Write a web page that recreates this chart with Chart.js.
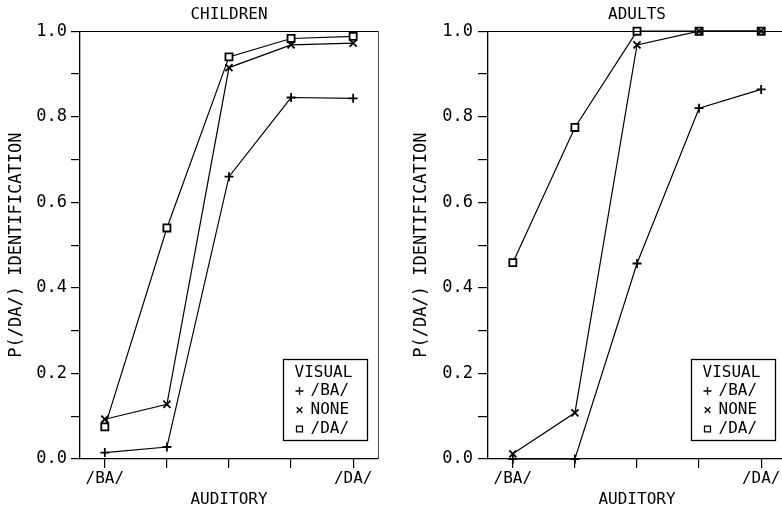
<!DOCTYPE html>
<html>
<head>
<meta charset="utf-8">
<script src="https://cdn.jsdelivr.net/npm/chart.js@4/dist/chart.umd.min.js"></script>
<style>
  html, body { margin: 0; padding: 0; background: #fff; width: 782px; height: 512px; overflow: hidden; }
  #wrapL { position: absolute; left: 0; top: 0; width: 391px; height: 512px; }
  #wrapR { position: absolute; left: 391px; top: 0; width: 408px; height: 512px; }
</style>
</head>
<body>
<div id="wrapL"><canvas id="chartL" width="391" height="512"></canvas></div>
<div id="wrapR"><canvas id="chartR" width="408" height="512"></canvas></div>
<script>
// ---- data ----
const auditoryLevels = [0, 1, 2, 3, 4];
const xTickLabels = ['/BA/', '', '', '', '/DA/'];
const yTickValues = [0, 0.1, 0.2, 0.3, 0.4, 0.5, 0.6, 0.7, 0.8, 0.9, 1.0];
const yTickLabels = ['0.0', '', '0.2', '', '0.4', '', '0.6', '', '0.8', '', '1.0'];
const seriesNames = ['/BA/', 'NONE', '/DA/'];

const childrenBA   = [0.015, 0.028, 0.66, 0.845, 0.843];
const childrenNone = [0.093, 0.128, 0.915, 0.968, 0.972];
const childrenDA   = [0.075, 0.54, 0.94, 0.983, 0.988];

const adultsBA   = [0.0, 0.0, 0.457, 0.82, 0.864];
const adultsNone = [0.012, 0.108, 0.968, 1.0, 1.0];
const adultsDA   = [0.459, 0.775, 1.0, 1.0, 1.0];

// ---- styling ----
const FONT = "'DejaVu Sans Mono', 'Liberation Mono', monospace";
Chart.defaults.font.family = FONT;
Chart.defaults.color = '#000';

const pointStyles = ['cross', 'crossRot', 'rect'];
const pointRadii = [4.5, 5, 5];

function toPoints(vals) {
  return auditoryLevels.map((x, i) => ({ x: x, y: vals[i] }));
}

function makeDatasets(ba, none, da) {
  return [ba, none, da].map((vals, i) => ({
    label: seriesNames[i],
    data: toPoints(vals),
    borderColor: '#000',
    borderWidth: 1.2,
    backgroundColor: '#fff',
    pointStyle: pointStyles[i],
    pointRadius: pointRadii[i],
    pointBorderWidth: 1.8,
    pointBorderColor: '#000',
    pointBackgroundColor: '#fff',
    tension: 0,
    clip: 12
  }));
}

const frameAndLegend = {
  id: 'frameAndLegend',
  afterDatasetsDraw(chart, args, opts) {
    const ctx = chart.ctx;
    const a = chart.chartArea;
    ctx.save();
    // top and right frame lines
    ctx.strokeStyle = '#000';
    ctx.lineWidth = 1.2;
    ctx.beginPath();
    ctx.moveTo(a.left, Math.round(a.top) + 0.5);
    ctx.lineTo(a.right, Math.round(a.top) + 0.5);
    ctx.stroke();
    ctx.strokeStyle = '#444';
    ctx.lineWidth = 1;
    ctx.beginPath();
    ctx.moveTo(Math.round(a.right) + 0.5, a.top);
    ctx.lineTo(Math.round(a.right) + 0.5, a.bottom);
    ctx.stroke();

    // legend box
    const bw = 84, bh = 81;
    const bx = Math.round(a.right - 11 - bw) + 0.5;
    const by = Math.round(a.bottom - 19 - bh) + 0.5;
    ctx.strokeStyle = '#000';
    ctx.lineWidth = 1.3;
    ctx.strokeRect(bx, by, bw, bh);
    ctx.fillStyle = '#000';
    ctx.font = "16px " + FONT;
    ctx.textBaseline = 'middle';
    ctx.textAlign = 'left';
    ctx.fillText(opts.title, bx + 11, by + 13);
    const rows = [31.5, 50.5, 69.5];
    chart.data.datasets.forEach((ds, i) => {
      const cy = by + rows[i];
      ctx.lineWidth = 1.3;
      ctx.strokeStyle = '#000';
      ctx.fillStyle = '#fff';
      Chart.helpers.drawPoint(ctx, {
        pointStyle: ds.pointStyle,
        radius: i === 2 ? 4.2 : 4,
        rotation: 0,
        borderWidth: 1.3
      }, bx + 16, cy);
      ctx.fillStyle = '#000';
      ctx.fillText(ds.label, bx + 27, cy);
    });
    ctx.restore();
  }
};

function makeChart(id, title, datasets, yWidth, yTitlePad, yTickLen, yTickPad, rightPad) {
  return new Chart(document.getElementById(id), {
    type: 'line',
    data: { datasets: datasets },
    options: {
      responsive: false,
      animation: false,
      devicePixelRatio: 1,
      layout: { padding: { left: 0, right: rightPad, top: 0, bottom: 0 } },
      plugins: {
        legend: { display: false },
        tooltip: { enabled: false },
        title: {
          display: true,
          text: title,
          fullSize: false,
          color: '#000',
          font: { size: 16, weight: 'normal', family: FONT },
          padding: { top: 5, bottom: 7 }
        },
        frameAndLegend: { title: 'VISUAL' }
      },
      scales: {
        x: {
          type: 'linear',
          min: -0.4,
          max: 4.4,
          afterBuildTicks(scale) {
            scale.ticks = auditoryLevels.map(v => ({ value: v }));
          },
          afterFit(scale) { scale.height = 53; },
          ticks: {
            autoSkip: false,
            maxRotation: 0,
            padding: 1,
            color: '#000',
            font: { size: 16, family: FONT },
            callback: (v) => xTickLabels[auditoryLevels.indexOf(v)] ?? ''
          },
          grid: { drawOnChartArea: false, drawTicks: true, tickLength: 9, color: '#000', lineWidth: 1.2 },
          border: { display: true, color: '#000', width: 1.3 },
          title: {
            display: true,
            text: 'AUDITORY',
            color: '#000',
            font: { size: 16, family: FONT },
            padding: { top: 0, bottom: 3 }
          }
        },
        y: {
          type: 'linear',
          min: 0,
          max: 1,
          afterBuildTicks(scale) {
            scale.ticks = yTickValues.map(v => ({ value: v }));
          },
          afterFit(scale) { scale.width = yWidth; },
          ticks: {
            autoSkip: false,
            padding: yTickPad,
            color: '#000',
            font: { size: 17, family: FONT },
            callback: (v) => {
              const idx = yTickValues.findIndex(t => Math.abs(t - v) < 1e-6);
              return idx >= 0 ? yTickLabels[idx] : '';
            }
          },
          grid: { drawOnChartArea: false, drawTicks: true, tickLength: yTickLen, color: '#000', lineWidth: 1.2 },
          border: { display: true, color: '#000', width: 1.3 },
          title: {
            display: true,
            text: 'P(/DA/) IDENTIFICATION',
            color: '#000',
            font: { size: 17, family: FONT },
            padding: { top: yTitlePad, bottom: 0 }
          }
        }
      }
    },
    plugins: [frameAndLegend]
  });
}

makeChart('chartL', 'CHILDREN', makeDatasets(childrenBA, childrenNone, childrenDA), 80, 6, 9, 4, 13);
makeChart('chartR', 'ADULTS', makeDatasets(adultsBA, adultsNone, adultsDA), 97, 20, 10, 5, 13);
</script>
</body>
</html>
